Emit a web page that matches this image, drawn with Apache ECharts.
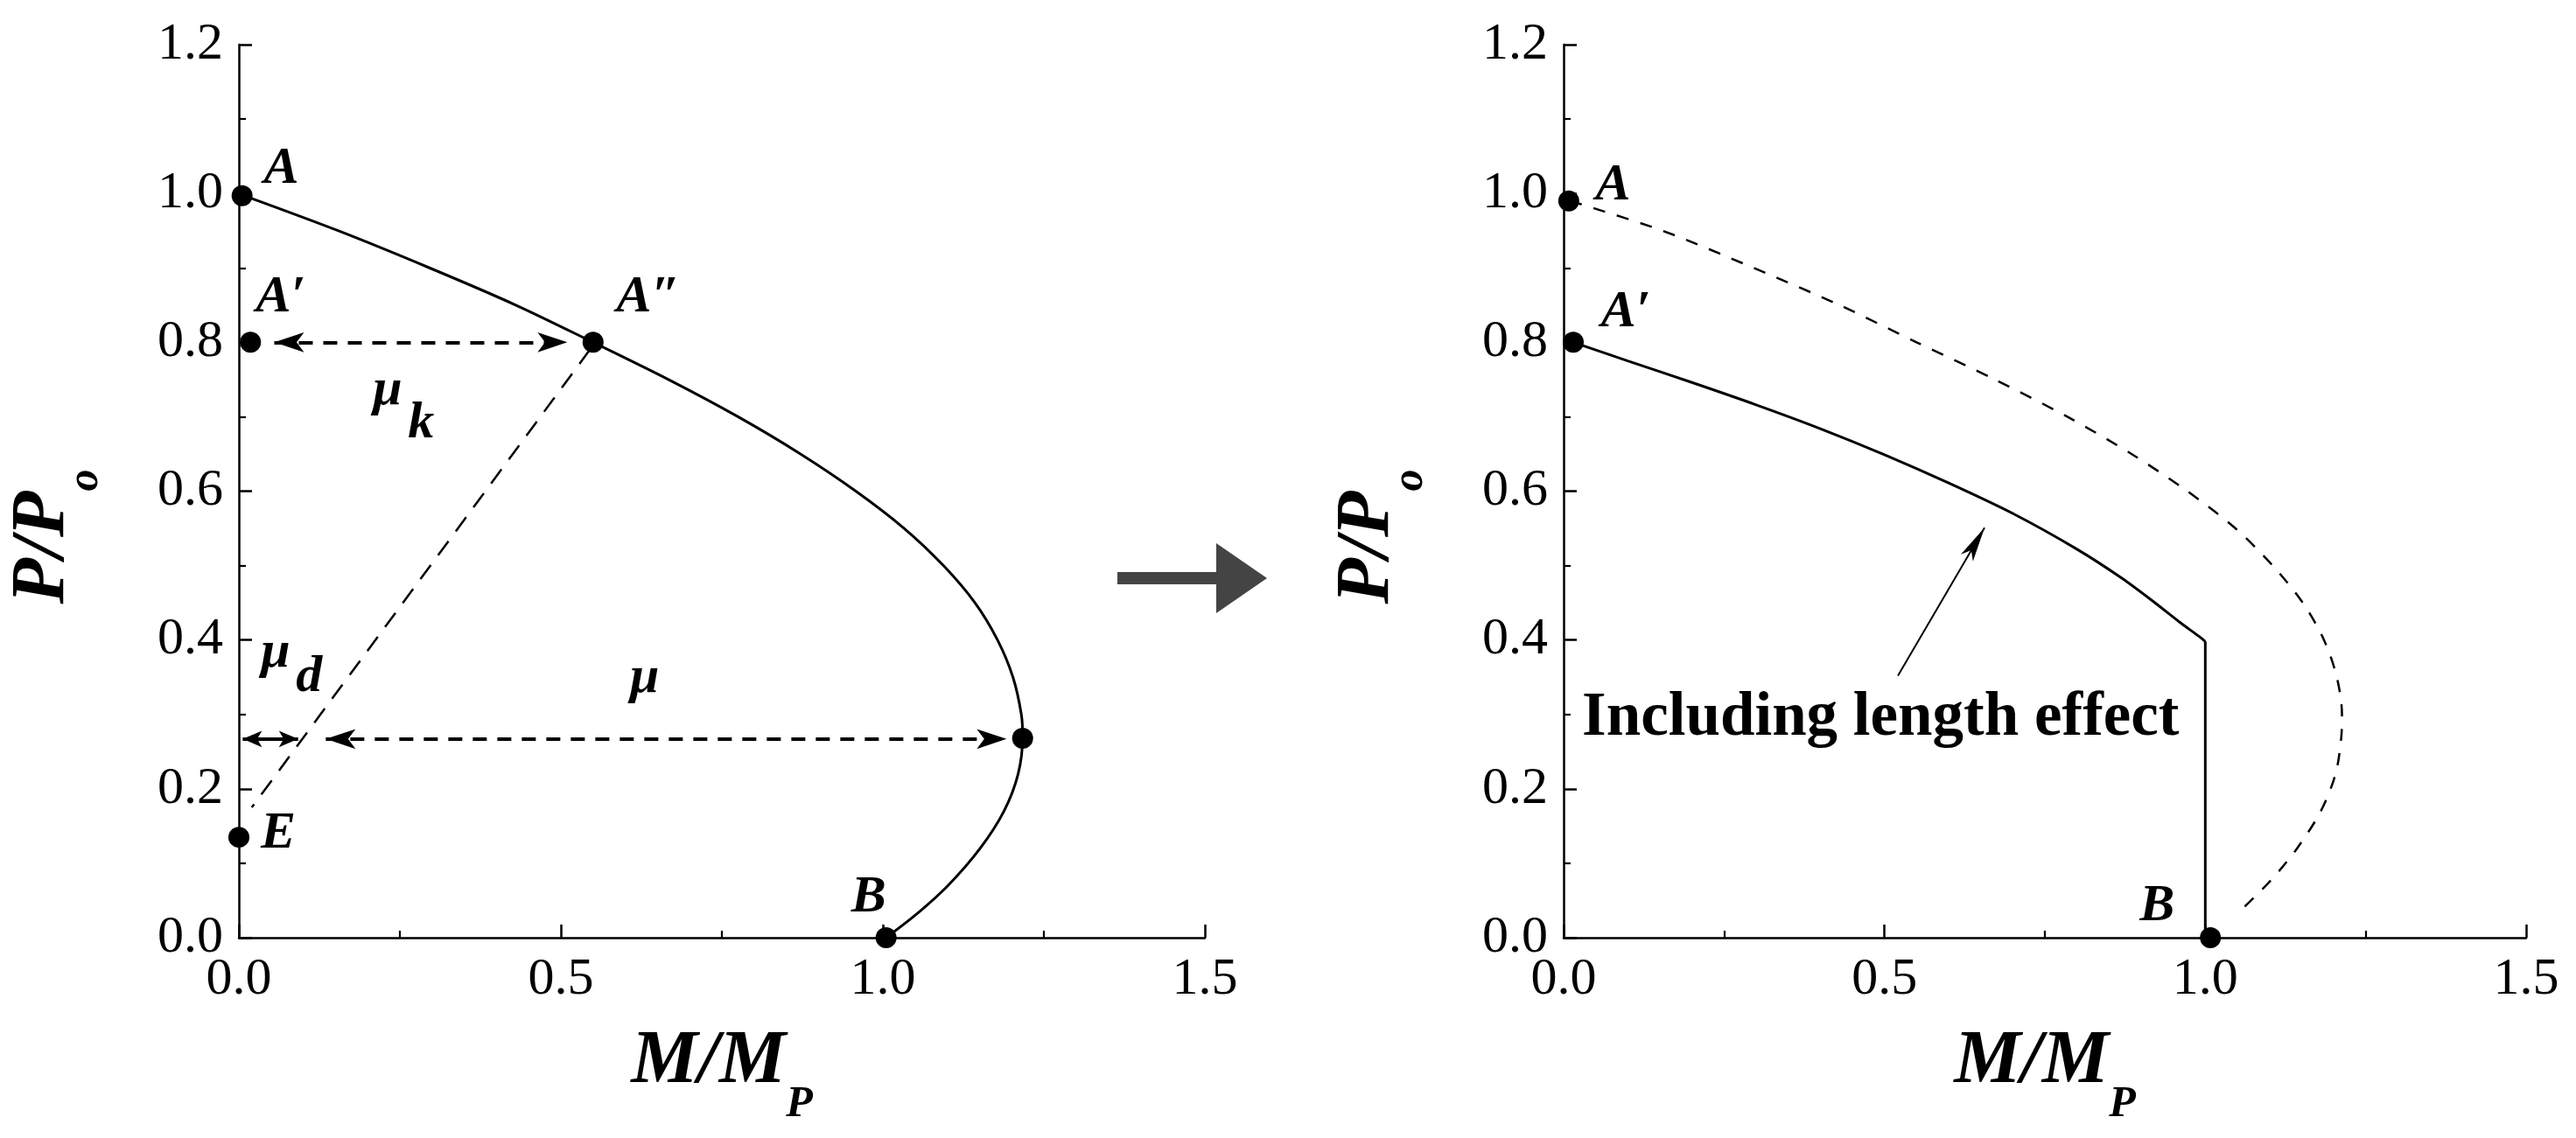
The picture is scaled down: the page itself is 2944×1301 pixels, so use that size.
<!DOCTYPE html>
<html>
<head>
    <meta charset="UTF-8">
    <title>P-M interaction</title>
    <script src="https://cdn.jsdelivr.net/npm/echarts@6/dist/echarts.min.js"></script>
    <style>
        html, body { margin: 0; padding: 0; background: #fff; }
        #chart { width: 2944px; height: 1301px; }
    </style>
</head>
<body>
<div id="chart"></div>
<script>
    // left panel: interaction curve A -> A'' -> nose -> B
    var leftCurveX = [0.005, 0.154, 0.296, 0.43, 0.55, 0.667, 0.775, 0.872, 0.958, 1.033, 1.094, 1.143, 1.178, 1.202, 1.215, 1.217, 1.21, 1.188, 1.151, 1.101, 1.05, 1.005];
    var leftCurveY = [0.998, 0.95, 0.9, 0.85, 0.8, 0.75, 0.7, 0.65, 0.6, 0.55, 0.5, 0.45, 0.4, 0.35, 0.3, 0.27, 0.22, 0.17, 0.12, 0.07, 0.03, 0.0];

    // left panel: marked points A, A', A'', nose, E, B
    var leftPtX = [0.005, 0.018, 0.55, 1.217, 0.0, 1.005];
    var leftPtY = [0.997, 0.8, 0.8, 0.268, 0.135, 0.0];

    // left panel: dimension arrows (mu_k, mu) and the short mu_d arrow
    var arrowFromX = [0.055, 0.135];
    var arrowFromY = [0.8, 0.267];
    var arrowToX = [0.51, 1.192];
    var arrowToY = [0.8, 0.267];
    var shortArrowX = [0.006, 0.092];
    var shortArrowY = [0.267, 0.267];
    // construction line A'' -> E
    var slantX = [0.545, 0.02];
    var slantY = [0.79, 0.175];

    // left panel: text tags
    var leftTags = ['A', 'A′', 'A″', 'μ', 'k', 'μ', 'd', 'μ', 'E', 'B'];
    var leftTagX = [0.066, 0.065, 0.636, 0.231, 0.283, 0.057, 0.109, 0.63, 0.061, 0.978];
    var leftTagY = [1.033, 0.86, 0.86, 0.735, 0.69, 0.383, 0.35, 0.348, 0.139, 0.054];

    // right panel: original curve (dashed) and curve including length effect (solid)
    var rightDashX = [0.01, 0.154, 0.296, 0.43, 0.55, 0.672, 0.785, 0.885, 0.972, 1.047, 1.105, 1.152, 1.185, 1.205, 1.213, 1.212, 1.203, 1.18, 1.143, 1.1, 1.048];
    var rightDashY = [0.99, 0.95, 0.9, 0.85, 0.8, 0.75, 0.7, 0.65, 0.6, 0.55, 0.5, 0.45, 0.4, 0.35, 0.3, 0.27, 0.22, 0.17, 0.12, 0.075, 0.031];
    var rightSolidX = [0.015, 0.1, 0.2, 0.3, 0.4, 0.5, 0.6, 0.7, 0.8, 0.87, 0.92, 0.96, 0.99, 1.0];
    var rightSolidY = [0.8, 0.775, 0.746, 0.716, 0.684, 0.649, 0.611, 0.57, 0.522, 0.483, 0.451, 0.424, 0.405, 0.398];
    var rightDropX = [1.0, 1.0];
    var rightDropY = [0.398, 0.0];

    var rightPtX = [0.008, 0.015, 1.008];
    var rightPtY = [0.99, 0.8, 0.0];

    var rightTags = ['A', 'A′', 'B'];
    var rightTagX = [0.077, 0.097, 0.925];
    var rightTagY = [1.01, 0.84, 0.042];

    var noteText = 'Including length effect';
    var noteX = 0.494, noteY = 0.294;
    var pointerX = [0.521, 0.656];
    var pointerY = [0.352, 0.551];

    var serif = "'Liberation Serif', 'Times New Roman', serif";

    function pairs(xs, ys) {
        return xs.map(function (x, i) { return [x, ys[i]]; });
    }

    var titleRich = {
        m: {fontFamily: serif, fontSize: 86, fontWeight: 'bold', fontStyle: 'italic', color: '#000',
            lineHeight: 86, verticalAlign: 'top'},
        s: {fontFamily: serif, fontSize: 50, fontWeight: 'bold', fontStyle: 'italic', color: '#000',
            lineHeight: 50, verticalAlign: 'top', padding: [66, 0, 0, 0]}
    };

    function axisCommon(o) {
        o.type = 'value';
        o.nameLocation = 'middle';
        o.axisLine = {show: true, onZero: false, lineStyle: {color: '#000', width: 2.5}};
        o.axisTick = {show: true, inside: true, length: 15, lineStyle: {color: '#000', width: 2.5}};
        o.minorTick = {show: true, splitNumber: 2, length: 8, lineStyle: {color: '#000', width: 2.2}};
        o.splitLine = {show: false};
        o.minorSplitLine = {show: false};
        o.axisLabel = {
            formatter: function (v) { return v.toFixed(1); },
            fontFamily: serif, fontSize: 60, color: '#000', margin: 18
        };
        return o;
    }

    function xAxisFor(i) {
        return axisCommon({gridIndex: i, min: 0, max: 1.5, interval: 0.5,
            name: '{m|M/M}{s|P}', nameGap: 100, nameTextStyle: {rich: titleRich}});
    }

    function yAxisFor(i) {
        return axisCommon({gridIndex: i, min: 0, max: 1.2, interval: 0.2,
            name: '{m|P/P}{s|o}', nameGap: 180,
            nameTextStyle: {rich: titleRich, padding: [0, 104, 0, 0]}});
    }

    var tagLabel = {show: true, position: 'inside', formatter: '{b}', fontFamily: serif,
        fontSize: 60, fontWeight: 'bold', fontStyle: 'italic', color: '#000', opacity: 1};

    function tagSeries(idx, names, xs, ys) {
        return {
            type: 'scatter', xAxisIndex: idx, yAxisIndex: idx, symbolSize: 1, clip: false,
            itemStyle: {color: 'rgba(0,0,0,0)', opacity: 1}, label: tagLabel, z: 5,
            data: names.map(function (n, i) { return {name: n, value: [xs[i], ys[i]]}; })
        };
    }

    function markerSeries(idx, xs, ys) {
        return {
            type: 'scatter', xAxisIndex: idx, yAxisIndex: idx, symbolSize: 24, clip: false,
            itemStyle: {color: '#000', opacity: 1}, data: pairs(xs, ys), z: 4
        };
    }

    var arrowLines = arrowFromX.map(function (x, i) {
        return {coords: [[x, arrowFromY[i]], [arrowToX[i], arrowToY[i]]]};
    });

    var chart = echarts.init(document.getElementById('chart'));
    chart.setOption({
        animation: false,
        backgroundColor: '#fff',
        grid: [
            {left: 273, top: 51, width: 1104, height: 1021, containLabel: false, outerBoundsMode: 'none'},
            {left: 1787, top: 51, width: 1100, height: 1021, containLabel: false, outerBoundsMode: 'none'}
        ],
        xAxis: [xAxisFor(0), xAxisFor(1)],
        yAxis: [yAxisFor(0), yAxisFor(1)],
        graphic: [{
            type: 'polygon', silent: true,
            shape: {points: [[1277, 654], [1390, 654], [1390, 621], [1448, 661], [1390, 701], [1390, 668], [1277, 668]]},
            style: {fill: '#444'}
        }],
        series: [
            {
                type: 'line', xAxisIndex: 0, yAxisIndex: 0, showSymbol: false, smooth: 0.3, clip: false,
                lineStyle: {color: '#000', width: 3}, data: pairs(leftCurveX, leftCurveY)
            },
            {
                type: 'line', xAxisIndex: 0, yAxisIndex: 0, showSymbol: false, clip: false,
                lineStyle: {color: '#000', width: 2.5, type: [20, 14]}, data: pairs(slantX, slantY)
            },
            {
                type: 'lines', coordinateSystem: 'cartesian2d', xAxisIndex: 0, yAxisIndex: 0,
                symbol: ['arrow', 'arrow'], symbolSize: [[17, 34], [17, 34]],
                lineStyle: {color: '#000', width: 4, type: [16, 12], opacity: 1},
                data: arrowLines
            },
            {
                type: 'lines', coordinateSystem: 'cartesian2d', xAxisIndex: 0, yAxisIndex: 0,
                symbol: ['arrow', 'arrow'], symbolSize: [[14, 22], [14, 22]],
                lineStyle: {color: '#000', width: 4, opacity: 1},
                data: [{coords: pairs(shortArrowX, shortArrowY)}]
            },
            markerSeries(0, leftPtX, leftPtY),
            tagSeries(0, leftTags, leftTagX, leftTagY),

            {
                type: 'line', xAxisIndex: 1, yAxisIndex: 1, showSymbol: false, smooth: 0.3, clip: false,
                lineStyle: {color: '#000', width: 2.5, type: [14, 14]}, data: pairs(rightDashX, rightDashY)
            },
            {
                type: 'line', xAxisIndex: 1, yAxisIndex: 1, showSymbol: false, smooth: 0.3, clip: false,
                lineStyle: {color: '#000', width: 3}, data: pairs(rightSolidX, rightSolidY)
            },
            {
                type: 'line', xAxisIndex: 1, yAxisIndex: 1, showSymbol: false, clip: false,
                lineStyle: {color: '#000', width: 3}, data: pairs(rightDropX, rightDropY)
            },
            {
                type: 'lines', coordinateSystem: 'cartesian2d', xAxisIndex: 1, yAxisIndex: 1,
                symbol: ['none', 'arrow'], symbolSize: [[12, 40], [12, 40]],
                lineStyle: {color: '#000', width: 2, opacity: 1},
                data: [{coords: pairs(pointerX, pointerY)}]
            },
            markerSeries(1, rightPtX, rightPtY),
            tagSeries(1, rightTags, rightTagX, rightTagY),
            {
                type: 'scatter', xAxisIndex: 1, yAxisIndex: 1, symbolSize: 1, clip: false,
                itemStyle: {color: 'rgba(0,0,0,0)', opacity: 1}, z: 5,
                label: {show: true, position: 'inside', formatter: '{b}', fontFamily: serif,
                    fontSize: 71, fontWeight: 'bold', color: '#000', opacity: 1},
                data: [{name: noteText, value: [noteX, noteY]}]
            }
        ]
    });
</script>
</body>
</html>
